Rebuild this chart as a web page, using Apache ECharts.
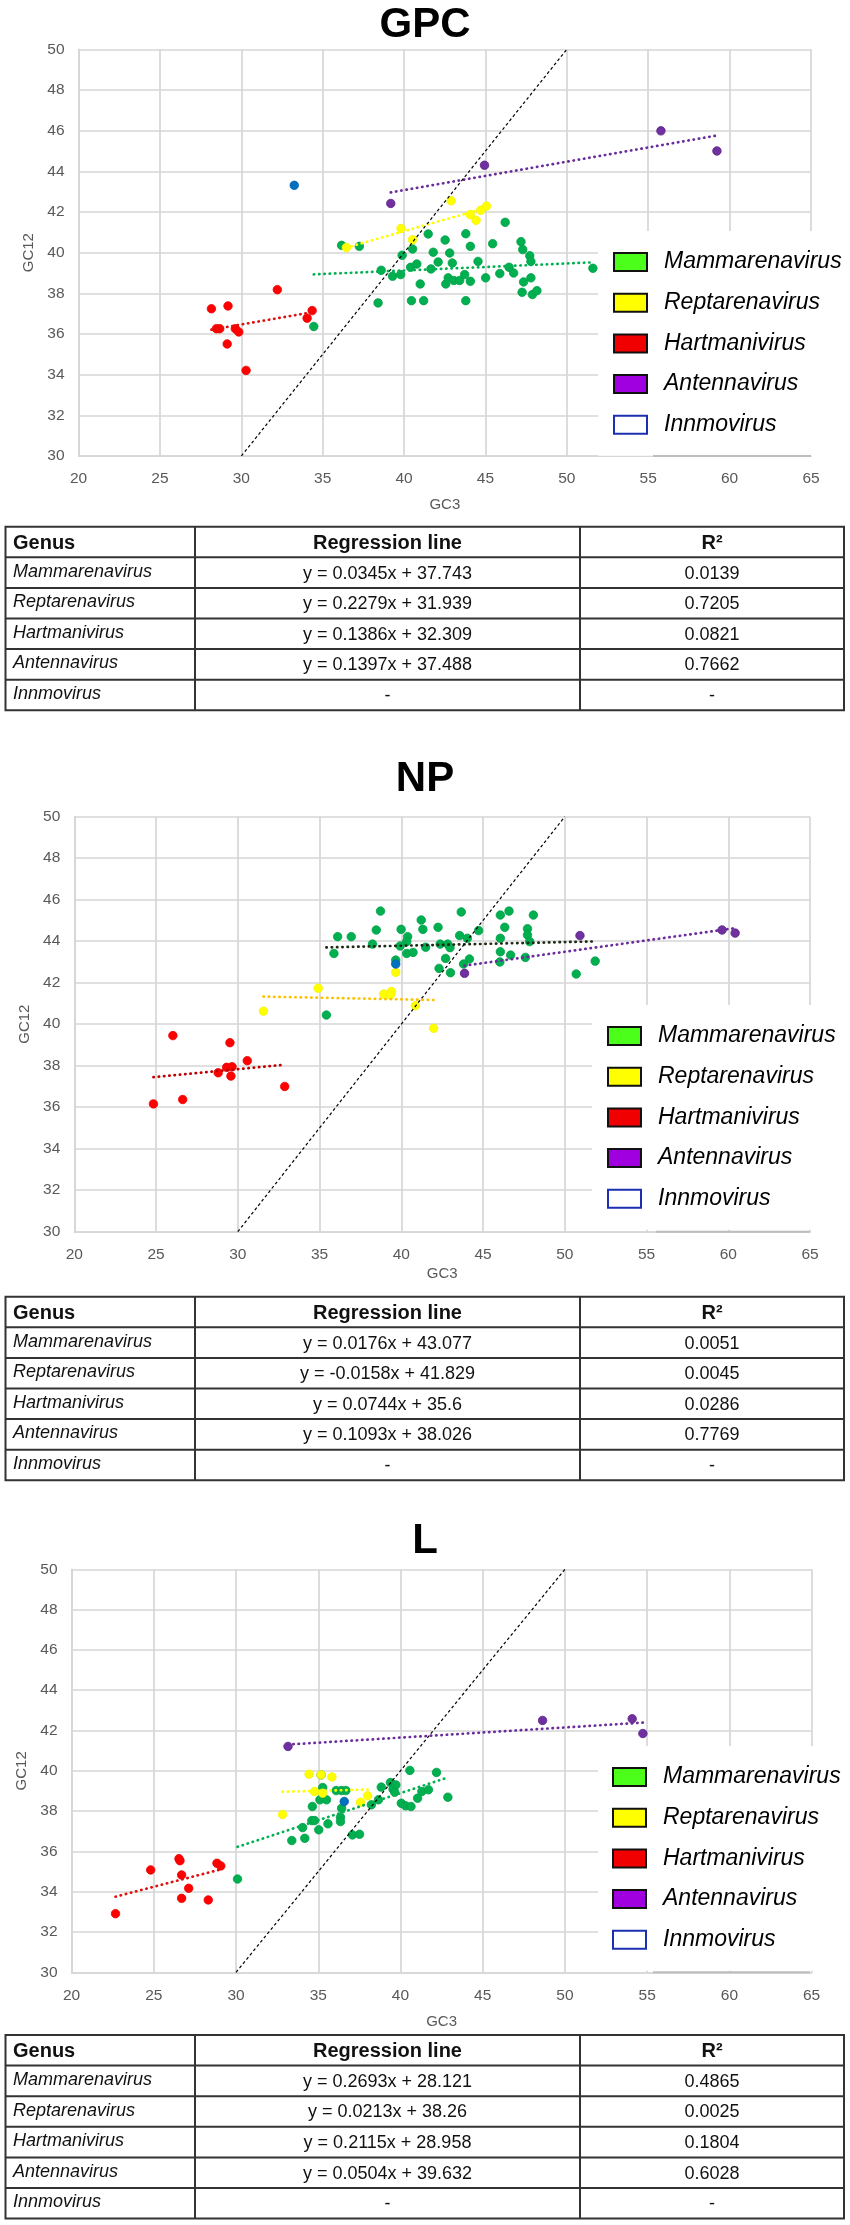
<!DOCTYPE html>
<html>
<head>
<meta charset="utf-8">
<script src="https://cdn.jsdelivr.net/npm/echarts/dist/echarts.min.js"></script>
<style>
  html, body { margin: 0; padding: 0; background: #fff; }
  #chart { width: 850px; height: 2225px; }
</style>
</head>
<body>
<div id="chart"></div>
<script>
// genus order, used by legends and tables
var genera = ['Mammarenavirus', 'Reptarenavirus', 'Hartmanivirus', 'Antennavirus', 'Innmovirus']

// ---- GPC points [GC3, GC12] ----
var gpcMamm = [[36.16,40.36],[37.25,40.31],[38.59,39.13],[38.40,37.53],[39.29,38.84],[39.79,38.92],[39.88,39.87],
  [40.40,39.28],[40.52,40.18],[40.78,39.44],[40.99,38.46],[40.45,37.64],[41.20,37.64],[41.48,40.92],[41.65,39.20],
  [41.79,40.02],[42.09,39.54],[42.52,40.62],[42.56,38.46],[42.71,38.76],[42.80,39.98],[42.96,39.49],[43.06,38.63],
  [43.41,38.63],[43.72,38.92],[43.79,40.93],[43.79,37.64],[44.07,40.31],[44.07,38.59],[44.54,39.57],[45.01,38.76],
  [45.44,40.44],[45.88,38.97],[46.21,41.49],[46.45,39.28],[46.73,39.00],[47.18,40.54],[47.29,40.15],[47.25,38.05],
  [47.34,38.56],[47.72,39.85],[47.79,39.57],[47.79,38.76],[47.88,37.94],[48.16,38.13],[51.60,39.23],[34.45,36.37]]
var gpcRept = [[36.45,40.25],[39.81,41.19],[40.52,40.64],[42.89,42.55],[44.07,41.87],[44.42,41.59],[44.71,42.08],[45.06,42.29]]
var gpcHart = [[28.16,37.24],[29.18,37.38],[32.21,38.18],[28.47,36.26],[28.67,36.26],[29.63,36.26],[29.84,36.10],
  [29.13,35.51],[30.29,34.21],[34.04,36.78],[34.35,37.15]]
var gpcAnt = [[39.18,42.42],[44.94,44.30],[55.78,45.99],[59.22,45.00]]
var gpcInn = [[33.25,43.31]]

// ---- NP points ----
var npMamm = [[38.73,45.45],[36.11,44.22],[36.94,44.22],[35.88,43.41],[38.47,44.54],[38.24,43.86],[39.99,44.57],
  [40.39,44.22],[40.33,43.98],[39.93,43.77],[40.33,43.41],[40.72,43.46],[39.66,43.09],[41.22,45.02],[41.32,44.57],
  [42.25,44.67],[41.49,43.71],[42.38,43.86],[42.84,43.86],[42.98,43.69],[42.71,43.17],[42.31,42.69],[43.01,42.48],
  [43.67,45.41],[43.57,44.27],[44.04,44.14],[44.73,44.51],[44.17,43.14],[43.81,42.90],[46.06,45.26],[46.59,45.45],
  [48.08,45.26],[46.33,44.67],[46.06,44.14],[46.06,43.49],[46.69,43.33],[46.03,43.00],[47.59,43.22],[47.72,44.60],
  [47.72,44.30],[47.85,43.98],[50.70,42.42],[51.86,43.04],[35.42,40.44]]
var npRept = [[39.66,42.50],[34.92,41.73],[31.57,40.63],[38.93,41.45],[39.40,41.57],[39.33,41.41],[40.86,40.89],[41.98,39.80]]
var npHart = [[26.03,39.45],[29.52,39.11],[30.58,38.24],[29.32,37.92],[29.65,37.95],[28.80,37.66],[29.58,37.50],
  [32.87,37.00],[24.84,36.16],[26.63,36.37]]
var npAnt = [[43.87,42.45],[50.93,44.27],[59.62,44.54],[60.42,44.39]]
var npInn = [[39.66,42.90]]

// ---- L points ----
var lMamm = [[30.09,34.63],[33.39,36.54],[34.18,36.65],[34.05,37.18],[34.61,37.53],[34.77,37.53],[34.64,38.23],
  [35.03,37.07],[35.10,38.56],[35.50,38.56],[35.27,39.17],[35.17,39.80],[35.59,37.37],[36.09,39.02],[36.42,38.14],
  [36.35,37.70],[36.35,37.48],[36.42,39.02],[36.68,39.02],[37.08,36.82],[37.51,36.85],[38.23,38.31],[38.66,38.56],
  [38.83,39.19],[39.39,39.42],[39.55,39.09],[39.72,39.30],[39.65,38.94],[40.05,38.39],[40.31,38.26],[40.64,38.23],
  [40.57,40.02],[41.04,38.64],[41.30,38.97],[41.70,39.06],[42.19,39.92],[42.88,38.69]]
var lRept = [[32.83,37.83],[34.44,39.83],[34.77,38.97],[35.27,38.89],[35.83,39.69],[37.57,38.44],[38.00,38.76],[35.17,39.80]]
var lHart = [[22.67,32.91],[24.81,35.08],[26.53,35.64],[26.59,35.54],[26.69,34.83],[26.69,33.67],[27.12,34.17],
  [28.31,33.59],[28.84,35.41],[29.07,35.28]]
var lAnt = [[33.16,41.21],[48.64,42.50],[54.09,42.58],[54.74,41.85]]
var lInn = [[36.58,38.48]]

// ---- regression table values (Innmovirus has none) ----
var gpcSlope = [0.0345, 0.2279, 0.1386, 0.1397]
var gpcIntercept = [37.743, 31.939, 32.309, 37.488]
var gpcR2 = ['0.0139', '0.7205', '0.0821', '0.7662']
var npSlope = [0.0176, -0.0158, 0.0744, 0.1093]
var npIntercept = [43.077, 41.829, 35.6, 38.026]
var npR2 = ['0.0051', '0.0045', '0.0286', '0.7769']
var lSlope = [0.2693, 0.0213, 0.2115, 0.0504]
var lIntercept = [28.121, 38.26, 28.958, 39.632]
var lR2 = ['0.4865', '0.0025', '0.1804', '0.6028']

var xTicks = [20, 65, 5]
var yTicks = [30, 50, 2]

// colours
var pointColors = ['#00B050', '#FFFF00', '#FF0000', '#7030A0', '#0070C0']
var pointBorders = ['#00A048', '#F2F200', '#F00000', '#5A2388', '#005FA8']
var legendFill = ['#4CFF1A', '#FFFF00', '#F00000', '#A000E0', '#ffffff']
var legendBorder = ['#111', '#111', '#111', '#111', '#1C2FB0']
var gridColor = '#D6D6D6'
var sans = "'Liberation Sans', Arial, sans-serif"

var panels = [
  { title: 'GPC', titleY: 25, points: [gpcMamm, gpcRept, gpcHart, gpcAnt, gpcInn],
    slope: gpcSlope, intercept: gpcIntercept, r2: gpcR2,
    fitColors: ['#00B050', '#FFFF00', '#E01010', '#6A2C9C'],
    grid: { left: 78.6, top: 49.3, width: 732.4, height: 406.7 },
    xNameGap: 41, yNameGap: 40.5, legend: { left: 598, top: 231, padLeft: 15 },
    stub: [653, 811], tableTop: 526.7 },
  { title: 'NP', titleY: 779, points: [npMamm, npRept, npHart, npAnt, npInn],
    slope: npSlope, intercept: npIntercept, r2: npR2,
    fitColors: ['#1E2A14', '#FFC000', '#C00000', '#6A2C9C'],
    grid: { left: 74.3, top: 816.7, width: 735.7, height: 415 },
    xNameGap: 35, yNameGap: 40, legend: { left: 592, top: 1005, padLeft: 15 },
    stub: [656, 810], tableTop: 1296.7 },
  { title: 'L', titleY: 1541, points: [lMamm, lRept, lHart, lAnt, lInn],
    slope: lSlope, intercept: lIntercept, r2: lR2,
    fitColors: ['#00B050', '#FFFF00', '#E01010', '#6A2C9C'],
    grid: { left: 71.6, top: 1569.3, width: 740, height: 403 },
    xNameGap: 42, yNameGap: 42, legend: { left: 598, top: 1746, padLeft: 14 },
    stub: [653, 810], tableTop: 2035 }
]

function fmtEq(s, b) {
  return 'y = ' + s + 'x + ' + b
}

function buildTable(top, p) {
  var els = []
  var left = 5.5, right = 844, rowH = 30.6, cols = [195, 580]
  var bottom = top + rowH * 6
  var line = function (x1, y1, x2, y2) {
    return { type: 'line', z: 10, shape: { x1: x1, y1: y1, x2: x2, y2: y2 },
      style: { stroke: '#333', lineWidth: 2 } }
  }
  els.push({ type: 'rect', z: 10, shape: { x: left, y: top, width: right - left, height: bottom - top },
    style: { fill: 'none', stroke: '#333', lineWidth: 2 } })
  for (var r = 1; r < 6; r++) els.push(line(left, top + rowH * r, right, top + rowH * r))
  cols.forEach(function (c) { els.push(line(c, top, c, bottom)) })
  var txt = function (t, x, y, align, opts) {
    var st = { text: t, x: x, y: y, align: align, verticalAlign: 'middle', fill: '#111',
      fontFamily: sans, fontSize: 18 }
    for (var k in opts) st[k] = opts[k]
    return { type: 'text', z: 11, style: st }
  }
  var hy = top + rowH / 2 + 1
  els.push(txt('Genus', 13, hy, 'left', { fontWeight: 'bold', fontSize: 20 }))
  els.push(txt('Regression line', (cols[0] + cols[1]) / 2, hy, 'center', { fontWeight: 'bold', fontSize: 20 }))
  els.push(txt('R²', (cols[1] + right) / 2, hy, 'center', { fontWeight: 'bold', fontSize: 20 }))
  genera.forEach(function (g, k) {
    var y = top + rowH * (k + 1) + rowH / 2
    var eq = k < p.slope.length ? fmtEq(p.slope[k], p.intercept[k]) : '-'
    var r2 = k < p.r2.length ? p.r2[k] : '-'
    els.push(txt(g, 13, y - 1, 'left', { fontStyle: 'italic' }))
    els.push(txt(eq, (cols[0] + cols[1]) / 2, y + 1, 'center', {}))
    els.push(txt(r2, (cols[1] + right) / 2, y + 1, 'center', {}))
  })
  return els
}

var grids = [], xAxes = [], yAxes = [], series = [], legends = [], graphics = []

panels.forEach(function (p, i) {
  grids.push({ left: p.grid.left, top: p.grid.top, width: p.grid.width, height: p.grid.height,
    containLabel: false, outerBoundsMode: 'none' })
  xAxes.push({
    type: 'value', gridIndex: i, min: xTicks[0], max: xTicks[1], interval: xTicks[2],
    name: 'GC3', nameLocation: 'middle', nameGap: p.xNameGap,
    nameTextStyle: { color: '#595959', fontSize: 15, fontFamily: sans },
    axisLine: { show: true, lineStyle: { color: gridColor, width: 1.7 } },
    axisTick: { show: false },
    axisLabel: { color: '#595959', fontSize: 15.5, margin: 15, fontFamily: sans },
    splitLine: { show: true, lineStyle: { color: gridColor, width: 1.7 } }
  })
  yAxes.push({
    type: 'value', gridIndex: i, min: yTicks[0], max: yTicks[1], interval: yTicks[2],
    name: 'GC12', nameLocation: 'middle', nameGap: p.yNameGap,
    nameTextStyle: { color: '#595959', fontSize: 15, fontFamily: sans },
    axisLine: { show: true, lineStyle: { color: gridColor, width: 1.7 } },
    axisTick: { show: false },
    axisLabel: { color: '#595959', fontSize: 15.5, margin: 14, fontFamily: sans },
    splitLine: { show: true, lineStyle: { color: gridColor, width: 1.7 } }
  })

  // y = x reference line
  series.push({ type: 'line', xAxisIndex: i, yAxisIndex: i, data: [[30, 30], [50, 50]],
    symbol: 'none', silent: true, z: 5,
    lineStyle: { color: '#000', width: 1.2, type: [3, 2.5] } })

  genera.forEach(function (g, k) {
    var pts = p.points[k]
    series.push({ type: 'scatter', name: g, xAxisIndex: i, yAxisIndex: i, data: pts,
      symbolSize: 8.5, z: 3,
      itemStyle: { color: pointColors[k], borderColor: pointBorders[k], borderWidth: 0.8, opacity: 1 } })
    if (k < p.slope.length) {
      var xs = pts.map(function (d) { return d[0] })
      var x0 = Math.min.apply(null, xs), x1 = Math.max.apply(null, xs)
      series.push({ type: 'line', name: p.title + ' ' + g + ' trend', xAxisIndex: i, yAxisIndex: i,
        data: [[x0, p.slope[k] * x0 + p.intercept[k]], [x1, p.slope[k] * x1 + p.intercept[k]]],
        symbol: 'none', silent: true, z: 4,
        lineStyle: { color: p.fitColors[k], width: 2.7, type: [0.4, 4.9], cap: 'round' } })
    }
  })

  legends.push({
    data: genera.map(function (g, k) {
      return { name: g, icon: 'rect',
        itemStyle: { color: legendFill[k], borderColor: legendBorder[k], borderWidth: 2 } }
    }),
    orient: 'vertical', left: p.legend.left, top: p.legend.top,
    padding: [19.5, 10, 19.5, p.legend.padLeft],
    itemWidth: 33, itemHeight: 18, itemGap: 17.7,
    backgroundColor: '#fff', selectedMode: false,
    textStyle: { color: '#000', fontSize: 23, lineHeight: 23, fontStyle: 'italic',
      fontFamily: sans, padding: [0, 0, 0, 12] }
  })

  graphics.push({ type: 'text', z: 20, style: { text: p.title, x: 425, y: p.titleY,
    align: 'center', verticalAlign: 'middle', fill: '#000',
    fontSize: 42, fontWeight: 'bold', fontFamily: sans } })
  var ay = p.grid.top + p.grid.height
  graphics.push({ type: 'line', z: 20, shape: { x1: p.stub[0], y1: ay, x2: p.stub[1], y2: ay },
    style: { stroke: '#bdbdbd', lineWidth: 2 } })
  graphics = graphics.concat(buildTable(p.tableTop, p))
})

var chart = echarts.init(document.getElementById('chart'), null, { renderer: 'canvas' })
chart.setOption({
  animation: false,
  backgroundColor: '#fff',
  grid: grids,
  xAxis: xAxes,
  yAxis: yAxes,
  legend: legends,
  series: series,
  graphic: graphics
})
</script>
</body>
</html>
